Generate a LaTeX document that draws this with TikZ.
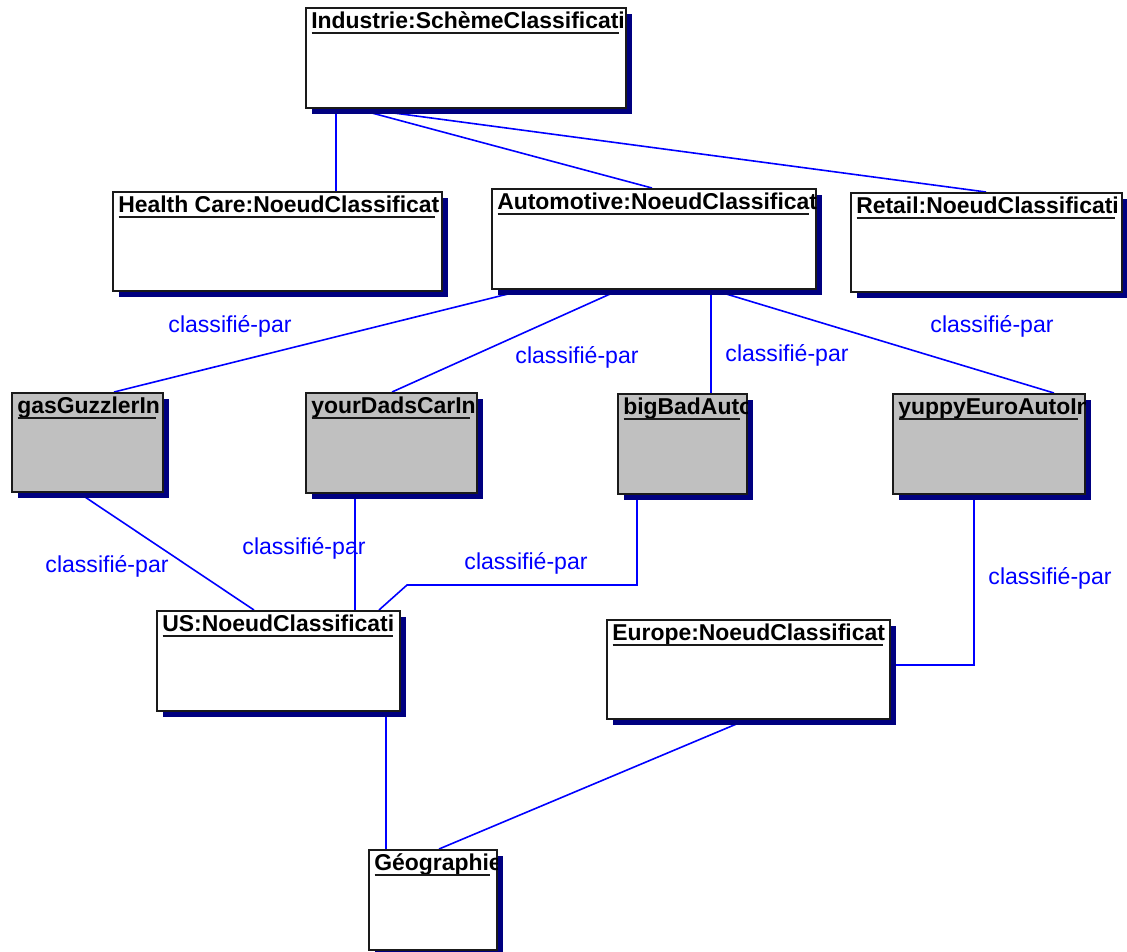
\documentclass[tikz,border=0pt]{standalone}
\usepackage{fontspec}
\setmainfont{Liberation Sans}
\usetikzlibrary{fit,shadows,calc}

\definecolor{boxshadow}{HTML}{000080}
\definecolor{linkblue}{HTML}{0000FF}
\definecolor{instgray}{HTML}{C0C0C0}
\definecolor{edge}{HTML}{1A1A1A}

\pgfdeclarelayer{wires}
\pgfsetlayers{wires,main}

\tikzset{
  umlbox/.style={draw=edge, line width=1.5pt, inner sep=0pt,
    drop shadow={shadow xshift=4.5pt, shadow yshift=-4.5pt, fill=boxshadow, opacity=1}},
  boxtitle/.style={inner sep=0pt, font=\fontsize{17.2}{20}\selectfont\bfseries},
  titlerule/.style={draw=edge, line width=1.5pt},
  link/.style={draw=linkblue, line width=1.2pt},
  linklabel/.style={text=linkblue, inner sep=0pt, font=\fontsize{17.3}{20}\selectfont}
}

% name, x1, y1, x2, y2, fill, title (the title is clipped to the box)
\newcommand\classbox[7]{%
  \node[umlbox, fill=#6, fit={(#2,#3) (#4,#5)}] (#1) {};
  \begin{scope}
    \clip ($(#1.north west)+(1,1)$) rectangle ($(#1.south east)+(-1,-1)$);
    \node[boxtitle, anchor=base west] (#1-title) at ($(#1.north west)+(6,21)$) {#7};
  \end{scope}
  \draw[titlerule] ($(#1.north west)+(6.5,26)$) -- ($(#1.north east)+(-8,26)$);
}

\begin{document}
\begin{tikzpicture}[x=0.75pt,y=-0.75pt]
\useasboundingbox (0,0) rectangle (1127,951);

% classifiers
\classbox{ind}{306}{8}{626}{108}{white}{Industrie:SchèmeClassificati}
\classbox{hc}{113}{192}{442}{291}{white}{Health Care:NoeudClassificat}
\classbox{auto}{492}{189}{816}{289}{white}{Automotive:NoeudClassificat}
\classbox{retail}{851}{193}{1122}{292}{white}{Retail:NoeudClassificati}

% instances
\classbox{gas}{12}{393}{163}{492}{instgray}{gasGuzzlerIn}
\classbox{dads}{306}{393}{477}{493}{instgray}{yourDadsCarIn}
\classbox{bigbad}{618}{394}{747}{494}{instgray}{bigBadAuto}
\classbox{yuppy}{893}{394}{1085}{494}{instgray}{yuppyEuroAutoIn}

% geography
\classbox{us}{157}{611}{400}{711}{white}{US:NoeudClassificati}
\classbox{eu}{607}{620}{890}{719}{white}{Europe:NoeudClassificat}
\classbox{geo}{369}{850}{497}{950}{white}{Géographie}

% connectors behind the boxes
\begin{pgfonlayer}{wires}
  \draw[link] ($(ind.south west)+(31,0)$) -- ($(hc.north west)+(224,0)$);
  \draw[link] ($(ind.south west)+(52,0)$) -- ($(auto.north west)+(161,0)$);
  \draw[link] ($(ind.south west)+(59,0)$) -- ($(retail.north west)+(136,0)$);

  \draw[link] ($(auto.south west)+(33,0)$) -- ($(gas.north west)+(103,0)$);
  \draw[link] ($(auto.south west)+(128,0)$) -- ($(dads.north west)+(87,0)$);
  \draw[link] ($(auto.south west)+(220,0)$) -- ($(bigbad.north west)+(94,0)$);
  \draw[link] ($(auto.south west)+(222,0)$) -- ($(yuppy.north west)+(162,0)$);

  \draw[link] ($(gas.south west)+(68,0)$) -- ($(us.north west)+(98,0)$);
  \draw[link] ($(dads.south west)+(50,0)$) -- ($(us.north west)+(199,0)$);
  \draw[link] ($(bigbad.south west)+(20,0)$) -- ++(0,90) -- ++(-230,0)
              -- ($(us.north west)+(223,0)$);
  \draw[link] ($(yuppy.south west)+(82,0)$) |- ($(eu.north east)+(0,46)$);

  \draw[link] ($(us.south west)+(230,0)$) -- ($(geo.north west)+(18,0)$);
  \draw[link] ($(eu.south west)+(140,0)$) -- ($(geo.north west)+(71,0)$);
\end{pgfonlayer}

% role labels
\node[linklabel] (l1) at (230,326) {classifié-par};
\node[linklabel] (l2) at (577,357) {classifié-par};
\node[linklabel] (l3) at (787,355) {classifié-par};
\node[linklabel] (l4) at (992,326) {classifié-par};
\node[linklabel] (l5) at (107,566) {classifié-par};
\node[linklabel] (l6) at (304,548) {classifié-par};
\node[linklabel] (l7) at (526,563) {classifié-par};
\node[linklabel] (l8) at (1050,578) {classifié-par};
\end{tikzpicture}
\end{document}
